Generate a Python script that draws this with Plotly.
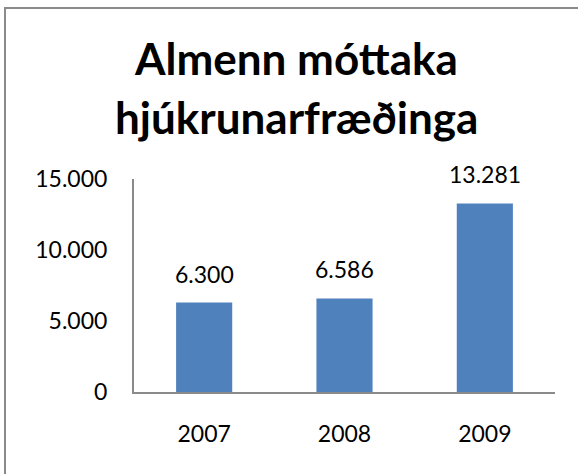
import plotly.graph_objects as go

years = ["2007", "2008", "2009"]
values = [6300, 6586, 13281]
y_ticks = [0, 5000, 10000, 15000]
y_tick_labels = ["0", "5.000", "10.000", "15.000"]
title_lines = ["Almenn móttaka", "hjúkrunarfræðinga"]

W, H = 578, 474
L, R, T, B = 134, 23, 179, 82
pw, ph = W - L - R, H - T - B

def px_x(x):
    return (x - L) / pw

def px_y(y):
    return (H - B - y) / ph

def fmt(v):
    return f"{v:,}".replace(",", ".")

FS = 23

fig = go.Figure()
fig.add_trace(go.Bar(
    x=years, y=values, width=0.4,
    marker=dict(color="#4F81BD", line=dict(width=0)),
    hoverinfo="skip",
))

annotations = []
for i, v in enumerate(values):
    annotations.append(dict(
        x=i, y=v, xref="x", yref="y", text=fmt(v), showarrow=False,
        yanchor="bottom", yshift=13,
        font=dict(family="Lato", size=FS, color="#000000"),
    ))
title_font = dict(family="Lato", size=44, color="#000000", weight="bold")
annotations.append(dict(
    x=px_x(296), y=px_y(72), xref="paper", yref="paper", text=title_lines[0],
    showarrow=False, xanchor="center", yanchor="bottom", yshift=-14,
    font=title_font,
))
annotations.append(dict(
    x=px_x(296), y=px_y(127), xref="paper", yref="paper", text=title_lines[1],
    showarrow=False, xanchor="center", yanchor="bottom", yshift=-18,
    font=title_font,
))

fig.update_layout(
    width=W, height=H,
    margin=dict(l=L, r=R, t=T, b=B, pad=0),
    paper_bgcolor="white", plot_bgcolor="white",
    showlegend=False,
    font=dict(family="Lato", size=FS, color="#000000"),
    separators=",.",
    annotations=annotations,
    shapes=[dict(
        type="rect", xref="paper", yref="paper",
        x0=px_x(5), x1=px_x(620), y0=px_y(520), y1=px_y(8),
        line=dict(color="#8A8A8A", width=2), fillcolor="rgba(0,0,0,0)",
        layer="below",
    )],
    xaxis=dict(
        type="category", range=[-0.5, 2.5], showgrid=False,
        showline=True, linecolor="#8A8A8A", linewidth=2,
        ticks="", ticklabelstandoff=20, fixedrange=True,
        tickfont=dict(family="Lato", size=FS, color="#000000"),
    ),
    yaxis=dict(
        range=[0, 15000], tickvals=y_ticks, ticktext=y_tick_labels,
        showgrid=False, zeroline=False,
        showline=True, linecolor="#8A8A8A", linewidth=2,
        ticks="", ticklabelstandoff=20, fixedrange=True,
        tickfont=dict(family="Lato", size=FS, color="#000000"),
    ),
)

fig.write_html(
    "out.html",
    config={"displayModeBar": False},
    post_script="document.body.style.margin='0';",
)
